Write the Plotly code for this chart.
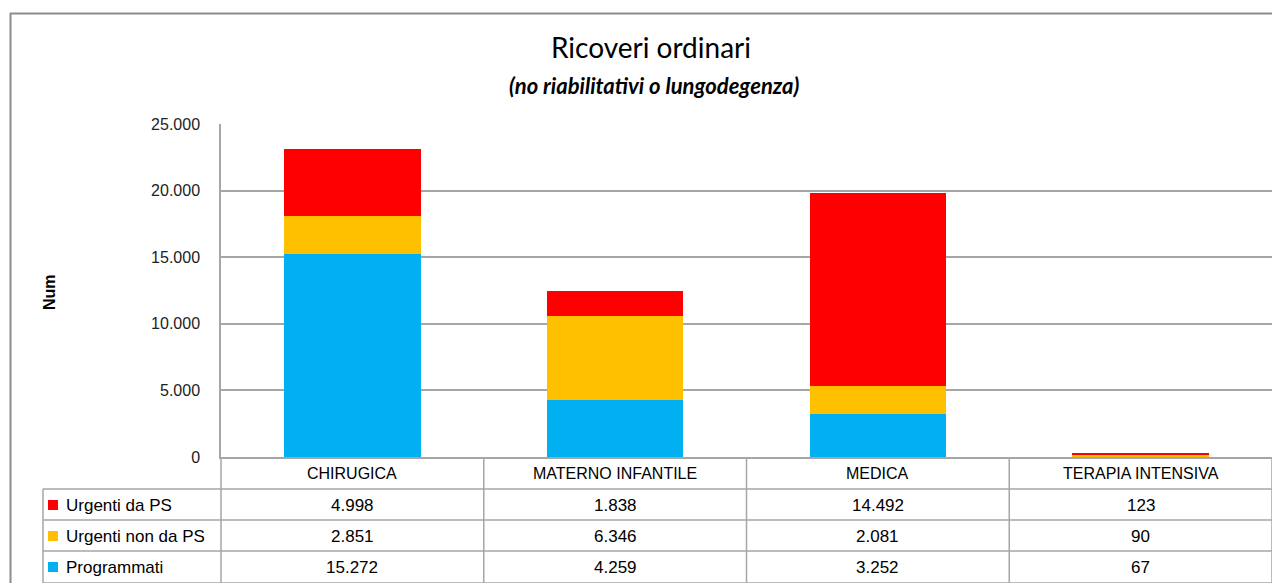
import plotly.graph_objects as go

categories = ["CHIRUGICA", "MATERNO INFANTILE", "MEDICA", "TERAPIA INTENSIVA"]
series_names = ["Urgenti da PS", "Urgenti non da PS", "Programmati"]
urgenti_ps = [4998, 1838, 14492, 123]
urgenti_non_ps = [2851, 6346, 2081, 90]
programmati = [15272, 4259, 3252, 67]
y_ticks = [0, 5000, 10000, 15000, 20000, 25000]

colors = {"Urgenti da PS": "#FF0000", "Urgenti non da PS": "#FFC000", "Programmati": "#00B0F0"}
values = {"Urgenti da PS": urgenti_ps, "Urgenti non da PS": urgenti_non_ps, "Programmati": programmati}

OFF = 8  # page body margin offset
W, H = 1280 - OFF, 583 - OFF
L, R, T, B = 221, 1272, 124, 457  # reference pixel coords
PW, PH = R - L, B - T


def px(x):
    return (x - L) / PW


def py(y):
    return (B - y) / PH


fig = go.Figure()
for name in ["Programmati", "Urgenti non da PS", "Urgenti da PS"]:
    fig.add_trace(go.Bar(x=categories, y=values[name], name=name,
                         marker=dict(color=colors[name], line=dict(width=0)),
                         showlegend=False))

grid = "#a6a6a6"
shapes = []
annotations = []

col_edges = [L + i * PW / len(categories) for i in range(len(categories) + 1)]
row_edges = [457, 489, 520, 551, 583]
for xe in col_edges:
    shapes.append(dict(type="line", xref="paper", yref="paper", x0=px(xe), x1=px(xe),
                       y0=py(457), y1=py(590), line=dict(color=grid, width=1.5)))
shapes.append(dict(type="line", xref="paper", yref="paper", x0=px(43), x1=px(43),
                   y0=py(489), y1=py(590), line=dict(color=grid, width=1.5)))
for ye in row_edges[1:]:
    shapes.append(dict(type="line", xref="paper", yref="paper", x0=px(43), x1=px(R),
                       y0=py(ye), y1=py(ye), line=dict(color=grid, width=1.5)))
shapes.append(dict(type="line", xref="paper", yref="paper", x0=px(10), x1=px(1290),
                   y0=py(13.5), y1=py(13.5), line=dict(color="#8c8c8c", width=2)))
shapes.append(dict(type="line", xref="paper", yref="paper", x0=px(10.5), x1=px(10.5),
                   y0=py(13), y1=py(595), line=dict(color="#8c8c8c", width=2)))

header_font = dict(family="Liberation Sans, Arial", size=16, color="#000")
cell_font = dict(family="Liberation Sans, Arial", size=17, color="#000")

for i, cat in enumerate(categories):
    cx = (col_edges[i] + col_edges[i + 1]) / 2
    annotations.append(dict(xref="paper", yref="paper", x=px(cx), y=py(473), text=cat,
                            showarrow=False, xanchor="center", yanchor="middle", font=header_font))

row_centers = [505, 536, 567]
for r, name in enumerate(series_names):
    yc = row_centers[r]
    shapes.append(dict(type="rect", xref="paper", yref="paper", x0=px(48), x1=px(58),
                       y0=py(yc - 5), y1=py(yc + 5), fillcolor=colors[name], line=dict(width=0)))
    annotations.append(dict(xref="paper", yref="paper", x=px(64), y=py(yc), text=name,
                            showarrow=False, xanchor="left", yanchor="middle", font=cell_font))
    for i, v in enumerate(values[name]):
        cx = (col_edges[i] + col_edges[i + 1]) / 2
        annotations.append(dict(xref="paper", yref="paper", x=px(cx), y=py(yc),
                                text=f"{v:,}".replace(",", "."), showarrow=False,
                                xanchor="center", yanchor="middle", font=cell_font))

annotations.append(dict(xref="paper", yref="paper", x=px(651), y=py(47), text="Ricoveri ordinari",
                        showarrow=False, xanchor="center", yanchor="middle",
                        font=dict(family="Lato, Open Sans, sans-serif", size=28, color="#000")))
annotations.append(dict(xref="paper", yref="paper", x=px(654), y=py(86),
                        text="<b><i>(no riabilitativi o lungodegenza)</i></b>",
                        showarrow=False, xanchor="center", yanchor="middle",
                        font=dict(family="Lato, Open Sans, sans-serif", size=22, color="#000")))
annotations.append(dict(xref="paper", yref="paper", x=px(49), y=py(292), text="<b>Num</b>",
                        textangle=-90, showarrow=False, xanchor="center", yanchor="middle",
                        font=dict(family="Liberation Sans, Arial", size=16, color="#000")))

fig.update_layout(
    width=W, height=H,
    margin=dict(l=L - OFF, r=W - (R - OFF), t=T - OFF, b=H - (B - OFF), pad=0),
    paper_bgcolor="white", plot_bgcolor="white",
    barmode="stack", bargap=0.48,
    separators=",.",
    shapes=shapes, annotations=annotations,
    xaxis=dict(showticklabels=False, showgrid=False, showline=True, linecolor=grid,
               linewidth=1.5, ticks="", zeroline=False),
    yaxis=dict(range=[0, 25000], tickvals=y_ticks, tickformat=",d", showgrid=True,
               gridcolor=grid, gridwidth=1.5, showline=True, linecolor=grid, linewidth=1.5,
               zeroline=False, ticks="", ticklabelstandoff=16,
               tickfont=dict(family="Liberation Sans, Arial", size=16, color="#222")),
)

fig.write_html("out.html")
